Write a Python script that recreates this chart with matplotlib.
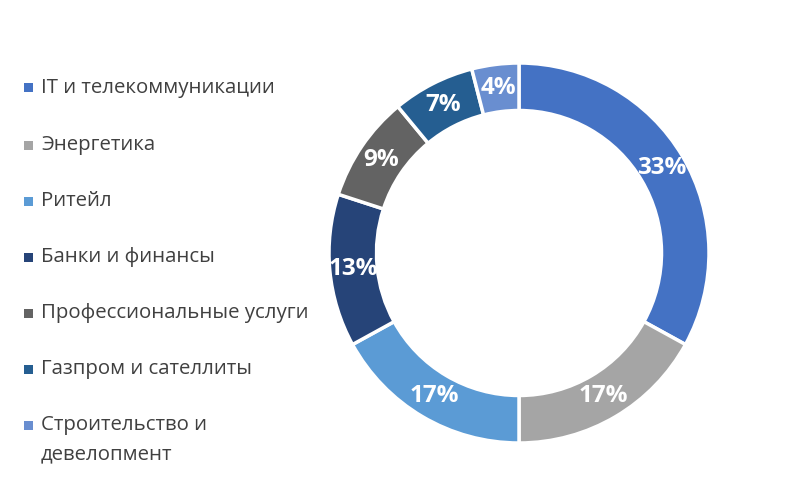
import numpy as np
import matplotlib.pyplot as plt
from matplotlib.patches import Rectangle

# sector shares (%), in drawing order (clockwise from 12 o'clock)
sectors = ["IT и телекоммуникации", "Энергетика", "Ритейл", "Банки и финансы",
           "Профессиональные услуги", "Газпром и сателлиты",
           "Строительство и\nдевелопмент"]
shares = [33, 17, 17, 13, 9, 7, 4]
colors = ["#4472C4", "#A5A5A5", "#5B9BD5", "#264478",
          "#636363", "#255E91", "#698ED0"]

plt.rcParams["font.family"] = ["Open Sans", "DejaVu Sans"]
TEXT = "#404040"

W, H = 800, 494
fig = plt.figure(figsize=(W / 100, H / 100), dpi=100)

# donut: centre (519, 253) px, outer radius 190 px
cx, cy, r = 519, 253, 190
ax = fig.add_axes([(cx - r) / W, (H - cy - r) / H, 2 * r / W, 2 * r / H])
wedges, texts = ax.pie(shares, colors=colors, startangle=90, counterclock=False,
                       radius=1.0,
                       wedgeprops=dict(width=0.25, edgecolor="white", linewidth=2.5))
ax.set_xlim(-1, 1)
ax.set_ylim(-1, 1)
ax.set_aspect("equal")
ax.axis("off")

# percentage labels in the middle of the ring
for w, v in zip(wedges, shares):
    ang = np.deg2rad((w.theta1 + w.theta2) / 2)
    rr = 1 - 0.25 / 2
    ax.text(rr * np.cos(ang), rr * np.sin(ang), f"{v}%", ha="center", va="center",
            color="white", fontsize=17.5, fontweight="bold")

# legend on the left
row_y = [88, 145, 201, 257, 313, 369, 425]
for y, lab, c in zip(row_y, sectors, colors):
    fig.patches.append(Rectangle((24 / W, (H - y - 4.5) / H), 9 / W, 9 / H,
                                 transform=fig.transFigure, facecolor=c,
                                 edgecolor="none"))
    lines = lab.split("\n")
    fig.text(41 / W, (H - y) / H, lines[0], ha="left", va="center",
             fontsize=14.7, color=TEXT)
    if len(lines) > 1:
        fig.text(41 / W, (H - y - 29) / H, lines[1], ha="left",
                 va="center", fontsize=14.7, color=TEXT)

fig.savefig("out.png", dpi=100)
